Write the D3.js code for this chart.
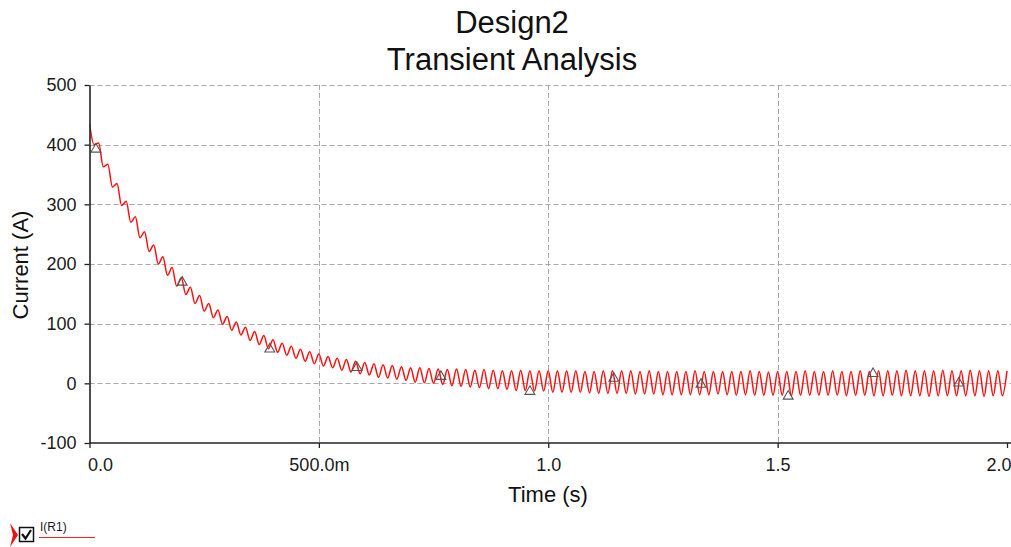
<!DOCTYPE html>
<html>
<head>
<meta charset="utf-8">
<script src="https://cdn.jsdelivr.net/npm/d3@7"></script>
<style>
  html, body { margin: 0; padding: 0; background: #fff; }
  svg { display: block; font-family: "Liberation Sans", Arial, sans-serif; }
</style>
</head>
<body>
<svg id="chart" width="1011" height="547"></svg>
<script>
const sampleStep = 0.01;
const currentR1 = [
    435, 400, 403, 363, 367, 329, 335, 298, 305, 270,
    279, 244, 254, 221, 232, 200, 212, 181, 194, 163,
    177, 149, 161, 134, 147, 121, 134, 110, 123, 99,
    112, 89, 103, 81, 94, 72, 87, 65, 80, 58,
    73, 52, 67, 47, 62, 42, 57, 37, 53, 33,
    49, 29, 45, 26, 42, 22, 40, 19, 37, 16,
    35, 14, 33, 10, 31, 9, 30, 7, 28, 5,
    26, 2, 26, 1, 25, 0, 24, -2, 23, -4,
    24, -5, 23, -6, 22, -7, 23, -9, 22, -9,
    21, -10, 21, -12, 22, -12, 21, -13, 21, -13,
    21, -15, 21, -15, 21, -15, 21, -15, 20, -16,
    20, -17, 21, -17, 21, -17, 21, -17, 21, -18,
    20, -18, 21, -18, 20, -19, 20, -19, 20, -19,
    20, -19, 21, -19, 20, -19, 20, -18, 20, -19,
    20, -20, 20, -19, 21, -20, 20, -20, 19, -20,
    20, -20, 20, -21, 20, -20, 21, -20, 20, -20,
    20, -20, 21, -20, 20, -21, 20, -20, 21, -20,
    20, -21, 21, -21, 21, -20, 21, -21, 22, -21,
    21, -21, 21, -22, 21, -21, 22, -21, 21, -21,
    21, -21, 22, -21, 21, -22, 21, -21, 21, -21,
    21
];

// triangle probe markers drawn on the trace
const markerTimes = [0.014, 0.202, 0.393, 0.583, 0.766, 0.960, 1.143, 1.333, 1.523, 1.708, 1.895];
const markerValues = [394, 171, 59, 28, 13, -12, 10, 0, -20, 18, 2];

const yTicks = [-100, 0, 100, 200, 300, 400, 500];
const xTicks = [0, 0.5, 1.0, 1.5, 2.0];
const xTickLabels = ["0.0", "500.0m", "1.0", "1.5", "2.0"];

const titleLines = ["Design2", "Transient Analysis"];

const svg = d3.select("#chart");
const plotLeft = 89.5, plotRight = 1011, plotTop = 85, plotBottom = 443;

const x = d3.scaleLinear().domain([0, 2]).range([plotLeft, 1007]);
const y = d3.scaleLinear().domain([-100, 500]).range([plotBottom, plotTop]);

// title
svg.selectAll("text.title")
    .data(titleLines)
    .enter().append("text")
    .attr("class", "title")
    .attr("x", 512)
    .attr("y", (d, i) => 33 + i * 37)
    .attr("text-anchor", "middle")
    .attr("font-size", 31)
    .attr("fill", "#111")
    .text(d => d);

// grid
const grid = svg.append("g")
    .attr("stroke", "#a8a8a8")
    .attr("stroke-width", 1)
    .attr("stroke-dasharray", "5,3");

grid.selectAll("line.h")
    .data(yTicks.filter(d => d > -100))
    .enter().append("line")
    .attr("x1", plotLeft).attr("x2", plotRight)
    .attr("y1", d => Math.round(y(d)) + 0.5)
    .attr("y2", d => Math.round(y(d)) + 0.5);

grid.selectAll("line.v")
    .data(xTicks.filter(d => d > 0 && d < 2))
    .enter().append("line")
    .attr("x1", d => Math.round(x(d)) + 0.5)
    .attr("x2", d => Math.round(x(d)) + 0.5)
    .attr("y1", plotTop).attr("y2", plotBottom);

// trace
svg.append("clipPath").attr("id", "plotclip")
    .append("rect")
    .attr("x", plotLeft).attr("y", 0)
    .attr("width", plotRight - plotLeft).attr("height", plotBottom + 5);

const line = d3.line()
    .x((d, i) => x(i * sampleStep))
    .y(d => y(d))
    .curve(d3.curveMonotoneX);

svg.append("path")
    .datum(currentR1)
    .attr("clip-path", "url(#plotclip)")
    .attr("fill", "none")
    .attr("stroke", "#ff1010")
    .attr("stroke-width", 1.5)
    .attr("d", line);

// markers
svg.selectAll("path.marker")
    .data(markerTimes)
    .enter().append("path")
    .attr("class", "marker")
    .attr("transform", (d, i) => "translate(" + x(d) + "," + (y(markerValues[i]) + 1) + ")")
    .attr("d", d3.symbol().type(d3.symbolTriangle).size(42))
    .attr("fill", "none")
    .attr("stroke", "#555")
    .attr("stroke-width", 1.1);

// axes
const yAxis = d3.axisLeft(y).tickValues(yTicks).tickSize(5).tickSizeOuter(0).tickPadding(8)
    .tickFormat(d => String(d));
const yg = svg.append("g").attr("transform", "translate(" + plotLeft + ",0)").call(yAxis);
yg.select(".domain").attr("stroke", "#222").attr("stroke-width", 1.6);
yg.selectAll(".tick line").attr("stroke", "#222").attr("stroke-width", 1.3);
yg.selectAll(".tick text")
    .attr("font-size", 18)
    .attr("font-family", "Liberation Sans, Arial, sans-serif")
    .attr("fill", "#1a1a1a");

const xAxis = d3.axisBottom(x).tickValues(xTicks).tickSize(5).tickSizeOuter(0).tickPadding(10)
    .tickFormat((d, i) => xTickLabels[i]);
const xg = svg.append("g").attr("transform", "translate(0," + plotBottom + ")").call(xAxis);
xg.select(".domain").attr("stroke", "#222").attr("stroke-width", 1.6)
    .attr("d", "M" + plotLeft + ",0H" + plotRight);
xg.selectAll(".tick line").attr("stroke", "#222").attr("stroke-width", 1.3);
xg.selectAll(".tick text")
    .attr("font-size", 18)
    .attr("font-family", "Liberation Sans, Arial, sans-serif")
    .attr("fill", "#1a1a1a")
    .attr("text-anchor", (d, i) => i === 0 ? "start" : (i === xTicks.length - 1 ? "end" : "middle"))
    .attr("dx", (d, i) => i === 0 ? -2 : (i === xTicks.length - 1 ? 4 : 0));

// axis titles
svg.append("text")
    .attr("x", 548).attr("y", 502)
    .attr("text-anchor", "middle")
    .attr("font-size", 22)
    .attr("fill", "#111")
    .text("Time (s)");

svg.append("text")
    .attr("transform", "translate(28,265) rotate(-90)")
    .attr("text-anchor", "middle")
    .attr("font-size", 22)
    .attr("fill", "#111")
    .text("Current (A)");

// legend
const legend = svg.append("g");
legend.append("path")
    .attr("d", "M10,523 L18,535 L10,547 L13,535 Z")
    .attr("fill", "#ee1010");
legend.append("rect")
    .attr("x", 19.5).attr("y", 527.5).attr("width", 14).attr("height", 14)
    .attr("fill", "#fff").attr("stroke", "#111").attr("stroke-width", 1.5);
legend.append("path")
    .attr("d", "M22,534 L25.5,538.5 L31,530")
    .attr("fill", "none").attr("stroke", "#111").attr("stroke-width", 2.2);
legend.append("text")
    .attr("x", 40).attr("y", 531)
    .attr("font-size", 12)
    .attr("fill", "#1a1a1a")
    .text("I(R1)");
legend.append("line")
    .attr("x1", 39).attr("x2", 95).attr("y1", 537.5).attr("y2", 537.5)
    .attr("stroke", "#ff2020").attr("stroke-width", 1.2);
</script>
</body>
</html>
